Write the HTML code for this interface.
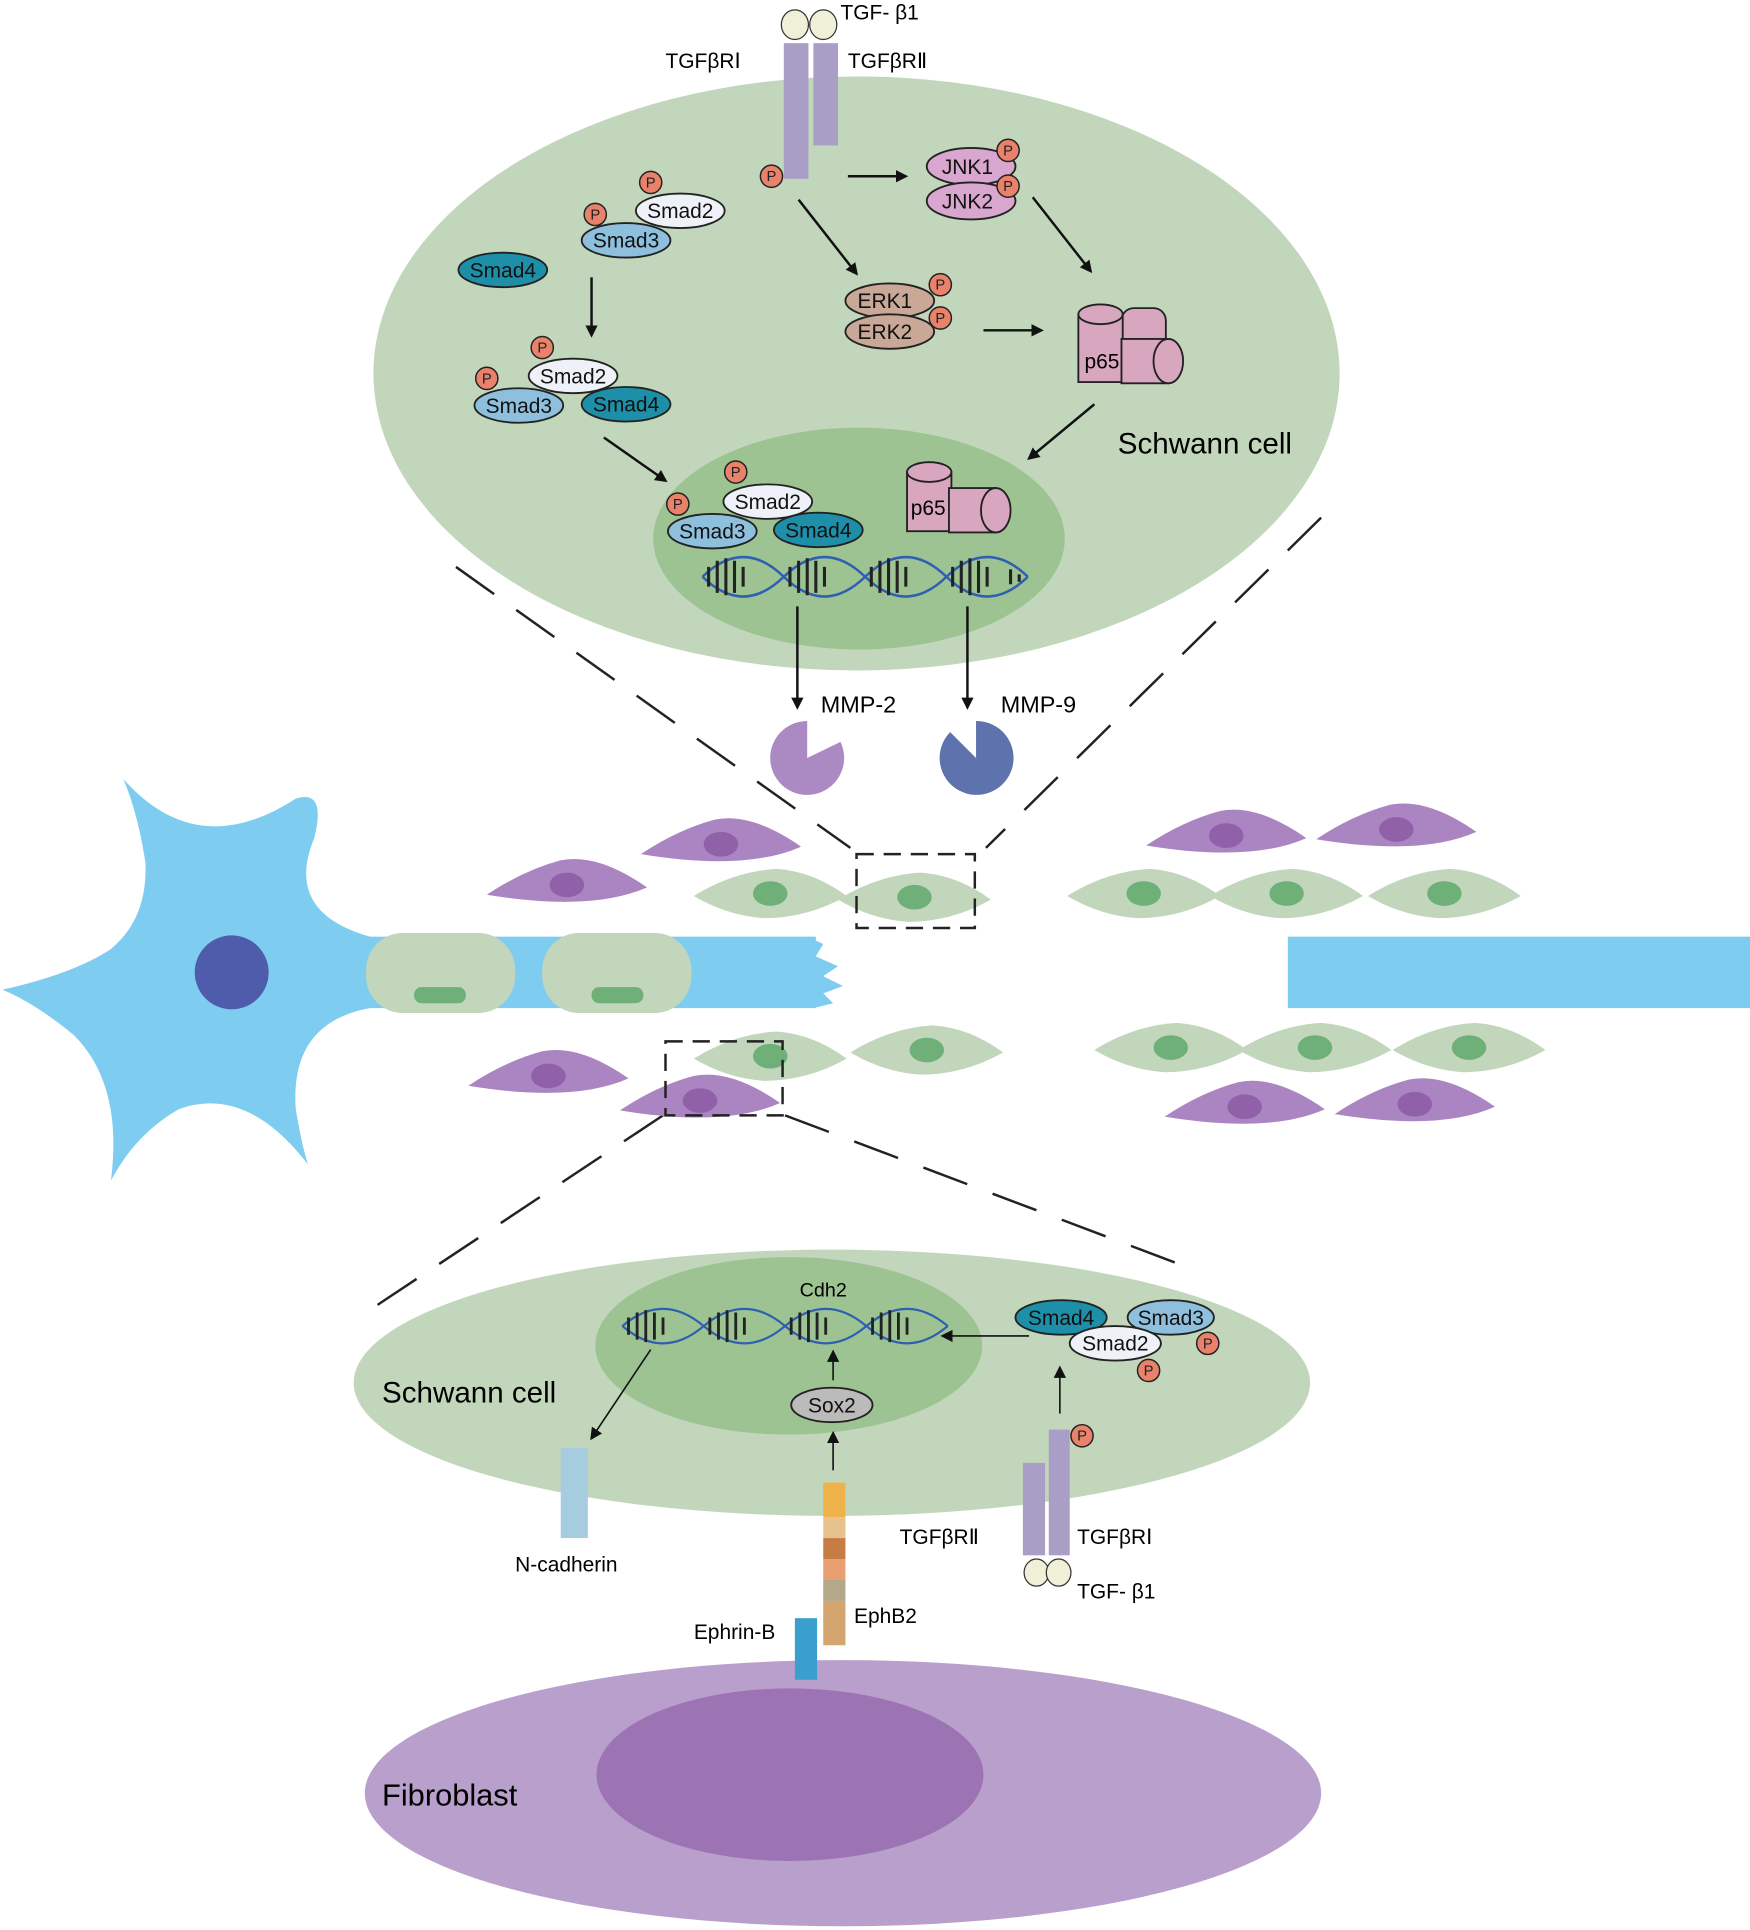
<!DOCTYPE html>
<html><head><meta charset="utf-8"><style>
html,body{margin:0;padding:0;background:#fff}
svg{display:block}
text{font-family:"Liberation Sans",sans-serif}
</style></head><body>
<svg width="1750" height="1930" viewBox="0 0 1420 1566" xmlns="http://www.w3.org/2000/svg">
<defs>
<marker id="ah" markerWidth="10" markerHeight="10" refX="8" refY="5" orient="auto" markerUnits="userSpaceOnUse"><path d="M0,0 L10,5 L0,10 Z" fill="#111"/></marker>
<symbol id="pc" overflow="visible"><path d="M-65,8 Q-35,-12 -5,-20 Q25,-26 65,2 Q20,22 -65,8 Z" fill="#ab85c2"/><ellipse cx="0" cy="0" rx="14" ry="10" fill="#9060a8"/></symbol>
<symbol id="gc" overflow="visible"><path d="M-62,2 Q-30,-18 5,-20 Q35,-18 62,2 Q30,20 -5,20 Q-35,18 -62,2 Z" fill="#c2d6bc"/><ellipse cx="0" cy="0" rx="14" ry="10" fill="#6fb079"/></symbol>
</defs>
<g fill="none" stroke="#222" stroke-width="2" stroke-dasharray="38,22">
<line x1="370" y1="460" x2="690" y2="688"/>
<line x1="1072" y1="420" x2="800" y2="688"/>
<line x1="538" y1="905" x2="300" y2="1063"/>
<line x1="637" y1="905" x2="955" y2="1025"/>
</g>
<!-- top cell -->
<ellipse cx="695" cy="303" rx="392" ry="241" fill="#c2d6bc"/>
<ellipse cx="697" cy="437" rx="167" ry="90" fill="#9dc393"/>
<rect x="636" y="35" width="20" height="110" fill="#a89ec6"/>
<rect x="660" y="35" width="20" height="83" fill="#a89ec6"/>
<ellipse cx="645" cy="20" rx="11" ry="12" fill="#eef0d8" stroke="#333"/>
<ellipse cx="668" cy="20" rx="11" ry="12" fill="#eef0d8" stroke="#333"/>
<text x="682" y="16" font-size="17">TGF- β1</text>
<text x="540" y="55" font-size="17">TGFβRⅠ</text>
<text x="688" y="55" font-size="17">TGFβRⅡ</text>
<g stroke="#111" stroke-width="2" fill="none">
<line x1="688" y1="143" x2="735" y2="143" marker-end="url(#ah)"/>
<line x1="648" y1="162" x2="695" y2="222" marker-end="url(#ah)"/>
<line x1="838" y1="160" x2="885" y2="220" marker-end="url(#ah)"/>
<line x1="798" y1="268" x2="845" y2="268" marker-end="url(#ah)"/>
<line x1="888" y1="328" x2="835" y2="372" marker-end="url(#ah)"/>
<line x1="480" y1="225" x2="480" y2="272" marker-end="url(#ah)"/>
<line x1="490" y1="355" x2="540" y2="390" marker-end="url(#ah)"/>
<line x1="647" y1="492" x2="647" y2="574" marker-end="url(#ah)"/>
<line x1="785" y1="492" x2="785" y2="574" marker-end="url(#ah)"/>
</g>
<g stroke="#222" stroke-width="1.5">
<ellipse cx="552" cy="171" rx="36" ry="14" fill="#eef2f8"/>
<ellipse cx="508" cy="195" rx="36" ry="14" fill="#8ebfdc"/>
<ellipse cx="408" cy="219" rx="36" ry="14" fill="#1e8fa8"/>
<ellipse cx="465" cy="305" rx="36" ry="14" fill="#eef2f8"/>
<ellipse cx="421" cy="329" rx="36" ry="14" fill="#8ebfdc"/>
<ellipse cx="508" cy="328" rx="36" ry="14" fill="#1e8fa8"/>
<ellipse cx="623" cy="407" rx="36" ry="14" fill="#eef2f8"/>
<ellipse cx="578" cy="431" rx="36" ry="14" fill="#8ebfdc"/>
<ellipse cx="664" cy="430" rx="36" ry="14" fill="#1e8fa8"/>
<ellipse cx="788" cy="135" rx="36" ry="15" fill="#d9a6cf"/>
<ellipse cx="788" cy="163" rx="36" ry="15" fill="#d9a6cf"/>
<ellipse cx="722" cy="244" rx="36" ry="14" fill="#c9a898"/>
<ellipse cx="722" cy="269" rx="36" ry="14" fill="#c9a898"/>
</g>
<g font-size="17" text-anchor="middle" fill="#111">
<text x="552" y="177">Smad2</text><text x="508" y="201">Smad3</text><text x="408" y="225">Smad4</text>
<text x="465" y="311">Smad2</text><text x="421" y="335">Smad3</text><text x="508" y="334">Smad4</text>
<text x="623" y="413">Smad2</text><text x="578" y="437">Smad3</text><text x="664" y="436">Smad4</text>
<text x="785" y="141">JNK1</text><text x="785" y="169">JNK2</text>
<text x="718" y="250">ERK1</text><text x="718" y="275">ERK2</text>
</g>
<g stroke="#222" stroke-width="1.2" fill="#e8826a">
<circle cx="626" cy="143" r="9"/><circle cx="528" cy="148" r="9"/><circle cx="483" cy="174" r="9"/>
<circle cx="440" cy="282" r="9"/><circle cx="395" cy="307" r="9"/><circle cx="597" cy="383" r="9"/><circle cx="550" cy="409" r="9"/>
<circle cx="818" cy="122" r="9"/><circle cx="818" cy="151" r="9"/><circle cx="763" cy="231" r="9"/><circle cx="763" cy="258" r="9"/>
</g>
<g font-size="12" text-anchor="middle" fill="#222">
<text x="626" y="147">P</text><text x="528" y="152">P</text><text x="483" y="178">P</text><text x="440" y="286">P</text><text x="395" y="311">P</text><text x="597" y="387">P</text><text x="550" y="413">P</text><text x="818" y="126">P</text><text x="818" y="155">P</text><text x="763" y="235">P</text><text x="763" y="262">P</text>
</g>
<g stroke="#222" stroke-width="1.5" fill="#d9a6bf">
<rect x="910" y="250" width="36" height="60" rx="10"/>
<rect x="875" y="255" width="36" height="55"/><ellipse cx="893" cy="255" rx="18" ry="8"/>
<rect x="910" y="275" width="38" height="36"/><ellipse cx="948" cy="293" rx="12" ry="18"/>
<rect x="736" y="383" width="36" height="48"/><ellipse cx="754" cy="383" rx="18" ry="8"/>
<rect x="770" y="396" width="38" height="36"/><ellipse cx="808" cy="414" rx="12" ry="18"/>
</g>
<text x="880" y="299" font-size="17">p65</text>
<text x="739" y="418" font-size="17">p65</text>
<text x="907" y="368" font-size="24">Schwann cell</text>
<g fill="none" stroke-width="2">
<path d="M570,468 q33,-32 66,0 q33,32 66,0 q33,-32 66,0 q33,32 66,0" stroke="#2f5fb0"/>
<path d="M570,468 q33,32 66,0 q33,-32 66,0 q33,32 66,0 q33,-32 66,0" stroke="#2f5fb0"/>
<path d="M575,460v16M582,455v26M589,453v30M596,455v26M603,460v16M641,460v16M648,455v26M655,453v30M662,455v26M669,460v16M707,460v16M714,455v26M721,453v30M728,455v26M735,460v16M773,460v16M780,455v26M787,453v30M794,455v26M801,460v16M820,462v12M827,466v6" stroke="#222" stroke-width="2.5"/>
</g>
<path d="M655,615 L655,585 A30,30 0 1 0 682,602 Z" fill="#ab8ac4"/>
<path d="M792,615 L771,594 A30,30 0 1 0 792,585 Z" fill="#5e73ad"/>
<text x="666" y="578" font-size="19">MMP-2</text>
<text x="812" y="578" font-size="19">MMP-9</text>
<!-- neuron -->
<path d="M100,632 Q160,700 240,648 Q265,640 255,680 Q230,740 300,760 L300,818 Q235,830 240,900 Q245,930 250,945 Q200,880 145,900 Q110,920 90,958 Q100,880 60,840 Q30,815 2,803 Q60,790 90,770 Q120,745 118,700 Q112,660 100,632 Z" fill="#7ecdf0"/>
<rect x="250" y="760" width="412" height="58" fill="#7ecdf0"/>
<path d="M655,760 L668,766 L662,776 L680,784 L668,792 L684,800 L668,806 L676,814 L660,818 Z" fill="#7ecdf0"/>
<circle cx="188" cy="789" r="30" fill="#4f5bab"/>
<rect x="297" y="757" width="121" height="65" rx="30" fill="#c2d6bc"/>
<rect x="440" y="757" width="121" height="65" rx="30" fill="#c2d6bc"/>
<rect x="336" y="801" width="42" height="13" rx="6" fill="#6fb079"/>
<rect x="480" y="801" width="42" height="13" rx="6" fill="#6fb079"/>
<rect x="1045" y="760" width="375" height="58" fill="#7ecdf0"/>
<use href="#pc" x="460" y="718"/><use href="#pc" x="585" y="685"/><use href="#pc" x="995" y="678"/><use href="#pc" x="1133" y="673"/>
<use href="#pc" x="445" y="873"/><use href="#pc" x="568" y="893"/><use href="#pc" x="1010" y="898"/><use href="#pc" x="1148" y="896"/>
<use href="#gc" x="625" y="725"/><use href="#gc" x="742" y="728"/><use href="#gc" x="928" y="725"/><use href="#gc" x="1044" y="725"/><use href="#gc" x="1172" y="725"/>
<use href="#gc" x="625" y="857"/><use href="#gc" x="752" y="852"/><use href="#gc" x="950" y="850"/><use href="#gc" x="1067" y="850"/><use href="#gc" x="1192" y="850"/>
<g fill="none" stroke="#222" stroke-width="2" stroke-dasharray="14,8">
<rect x="695" y="693" width="96" height="60"/>
<rect x="540" y="845" width="95" height="60"/>
</g>
<!-- bottom cell -->
<ellipse cx="675" cy="1122" rx="388" ry="108" fill="#c2d6bc"/>
<ellipse cx="640" cy="1092" rx="157" ry="72" fill="#9dc393"/>
<text x="310" y="1138" font-size="24">Schwann cell</text>
<text x="668" y="1052" font-size="16" text-anchor="middle">Cdh2</text>
<g fill="none" stroke-width="1.8">
<path d="M505,1076 q33,-28 66,0 q33,28 66,0 q33,-28 66,0 q33,28 66,0" stroke="#2f5fb0"/>
<path d="M505,1076 q33,28 66,0 q33,-28 66,0 q33,28 66,0 q33,-28 66,0" stroke="#2f5fb0"/>
<path d="M510,1069v14M517,1065v22M524,1063v26M531,1065v22M538,1069v14M576,1069v14M583,1065v22M590,1063v26M597,1065v22M604,1069v14M642,1069v14M649,1065v22M656,1063v26M663,1065v22M670,1069v14M708,1069v14M715,1065v22M722,1063v26M729,1065v22M736,1069v14" stroke="#222" stroke-width="2.3"/>
</g>
<g stroke="#111" stroke-width="1.3" fill="none">
<line x1="528" y1="1095" x2="480" y2="1167" marker-end="url(#ah)"/>
<line x1="676" y1="1193" x2="676" y2="1163" marker-end="url(#ah)"/>
<line x1="676" y1="1120" x2="676" y2="1097" marker-end="url(#ah)"/>
<line x1="860" y1="1147" x2="860" y2="1110" marker-end="url(#ah)"/>
<line x1="835" y1="1084" x2="765" y2="1084" marker-end="url(#ah)"/>
</g>
<g stroke="#222" stroke-width="1.5">
<ellipse cx="861" cy="1069" rx="37" ry="14" fill="#1e8fa8"/>
<ellipse cx="950" cy="1069" rx="35" ry="14" fill="#8ebfdc"/>
<ellipse cx="905" cy="1090" rx="37" ry="14" fill="#eef2f8"/>
<ellipse cx="675" cy="1140" rx="33" ry="14" fill="#bbbbbb"/>
</g>
<g font-size="17" text-anchor="middle" fill="#111">
<text x="861" y="1075">Smad4</text><text x="950" y="1075">Smad3</text><text x="905" y="1096">Smad2</text>
<text x="675" y="1146">Sox2</text>
</g>
<g stroke="#222" stroke-width="1.2" fill="#e8826a">
<circle cx="878" cy="1165" r="9"/><circle cx="980" cy="1090" r="9"/><circle cx="932" cy="1112" r="9"/>
</g>
<g font-size="12" text-anchor="middle" fill="#222">
<text x="878" y="1169">P</text><text x="980" y="1094">P</text><text x="932" y="1116">P</text>
</g>
<rect x="455" y="1175" width="22" height="73" fill="#a6cce0"/>
<text x="418" y="1275" font-size="17">N-cadherin</text>
<rect x="668" y="1203" width="18" height="28" fill="#f0b24a"/>
<rect x="668" y="1231" width="18" height="17" fill="#e8c28e"/>
<rect x="668" y="1248" width="18" height="17" fill="#c77c43"/>
<rect x="668" y="1265" width="18" height="17" fill="#e8a070"/>
<rect x="668" y="1282" width="18" height="17" fill="#b3a88a"/>
<rect x="668" y="1299" width="18" height="36" fill="#d4a56e"/>
<text x="693" y="1317" font-size="17">EphB2</text>
<rect x="830" y="1187" width="18" height="75" fill="#a89ec6"/>
<rect x="851" y="1160" width="17" height="102" fill="#a89ec6"/>
<ellipse cx="841" cy="1276" rx="10" ry="11" fill="#eef0d8" stroke="#333"/>
<ellipse cx="859" cy="1276" rx="10" ry="11" fill="#eef0d8" stroke="#333"/>
<text x="730" y="1253" font-size="17">TGFβRⅡ</text>
<text x="874" y="1253" font-size="17">TGFβRⅠ</text>
<text x="874" y="1297" font-size="17">TGF- β1</text>
<ellipse cx="684" cy="1455" rx="388" ry="108" fill="#b99fcb"/>
<ellipse cx="641" cy="1440" rx="157" ry="70" fill="#9c73b3"/>
<rect x="645" y="1313" width="18" height="50" fill="#3a9fcc"/>
<text x="563" y="1330" font-size="17">Ephrin-B</text>
<text x="310" y="1465" font-size="25">Fibroblast</text>
</svg>
</body></html>
